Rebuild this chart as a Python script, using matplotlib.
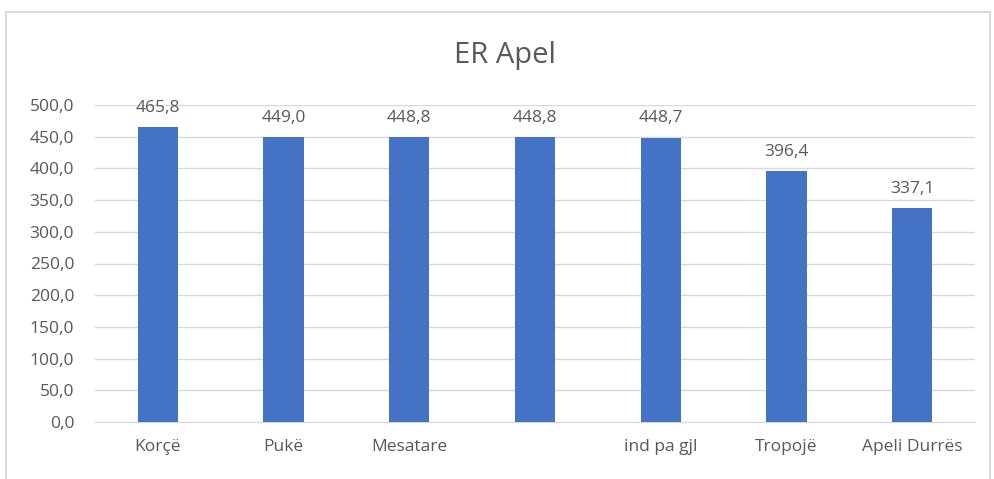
import matplotlib

matplotlib.use("Agg")

import matplotlib.pyplot as plt
from matplotlib.patches import Rectangle

# data
categories = ["Korçë", "Pukë", "Mesatare", "", "ind pa gjl", "Tropojë", "Apeli Durrës"]
values = [465.8, 449.0, 448.8, 448.8, 448.7, 396.4, 337.1]
yticks = [0, 50, 100, 150, 200, 250, 300, 350, 400, 450, 500]

BAR_COLOR = "#4472C4"
TEXT_COLOR = "#595959"
GRID_COLOR = "#d9d9d9"

plt.rcParams["font.family"] = ["Open Sans", "DejaVu Sans"]

W, H = 995, 479
fig = plt.figure(figsize=(W / 100, H / 100), dpi=100)
ax = fig.add_axes([95 / W, 1 - 422 / H, 880 / W, (422 - 105) / H])

x = range(len(categories))
ax.bar(x, values, width=0.32, color=BAR_COLOR, zorder=3)

for xi, v in zip(x, values):
    ax.annotate(f"{v:.1f}".replace(".", ","), (xi, v), xytext=(0, 8),
                textcoords="offset points", ha="center", va="bottom",
                fontsize=12.5, color=TEXT_COLOR)

ax.set_xlim(-0.5, len(categories) - 0.5)
ax.set_ylim(0, 500)
ax.set_yticks(yticks)
ax.set_yticklabels([f"{t:.1f}".replace(".", ",") for t in yticks], fontsize=12.5, color=TEXT_COLOR)
ax.set_xticks(list(x))
ax.set_xticklabels(categories, fontsize=12.5, color=TEXT_COLOR)
ax.tick_params(axis="y", length=0, pad=15)
ax.tick_params(axis="x", length=0, pad=12)

ax.grid(axis="y", color=GRID_COLOR, linewidth=1, zorder=0)
for side in ["top", "right", "left"]:
    ax.spines[side].set_visible(False)
ax.spines["bottom"].set_color(GRID_COLOR)

fig.text(505 / W, 1 - 55 / H, "ER Apel", ha="center", va="center", fontsize=21, color=TEXT_COLOR)

# outer chart border
fig.patches.append(Rectangle((6 / W, -0.05), (990 - 6) / W, 1.05 - 12 / H,
                             transform=fig.transFigure, fill=False,
                             edgecolor=GRID_COLOR, linewidth=1.5))

fig.savefig("out.png", dpi=100)
